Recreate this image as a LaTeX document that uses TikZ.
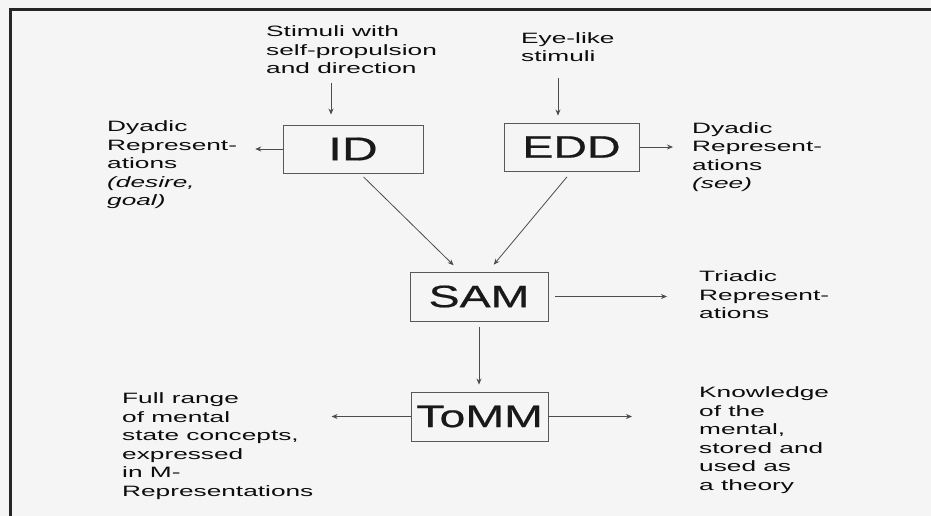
\documentclass[tikz,border=0pt]{standalone}
\usepackage{fontspec}
\setmainfont{Liberation Sans}
\newfontfamily\lblfont{Liberation Sans}[FakeStretch=1.75]
\newfontfamily\boxfont{Liberation Sans}[FakeStretch=1.5, FakeBold=0.6]
\usetikzlibrary{arrows.meta}

\begin{document}
\begin{tikzpicture}[x=1pt, y=-1pt,
	module/.style={draw=black!65, line width=0.9pt, minimum height=48pt, inner sep=0pt, text=black!90, font=\boxfont\fontsize{31}{31}\selectfont},
	lbl/.style={align=left, anchor=west, inner sep=0pt, text=black!95, font=\lblfont\fontsize{15}{18.5}\selectfont},
	arr/.style={draw=black!70, line width=0.8pt, -{Stealth[length=6pt,width=5pt]}},
	frame/.style={draw=black!85, line width=3pt}]

		% background and frame
		\fill[black!4] (0,0) rectangle (931,516);
		\useasboundingbox (0,0) rectangle (931,516);
		\draw[frame] (10,516) -- (10,10) -- (931,10);

		% draw boxes
		\node[module, minimum width=140pt, font=\boxfont\fontsize{33}{33}\selectfont] (ID) at (353,149) {ID};
		\node[module, minimum width=135pt] (EDD) at (571.5,147) {EDD};
		\node[module, minimum width=138pt, minimum height=49pt] (SAM) at (479,296.5) {SAM};
		\node[module, minimum width=137pt, minimum height=49pt] (ToMM) at (479.5,416.5) {ToMM};

		% draw labels
		\node[lbl] (stimA) at (266,50) {Stimuli with\\self-propulsion\\and direction};
		\node[lbl] (stimB) at (521,47) {Eye-like\\stimuli};
		\node[lbl] (dyadL) at (107,165) {Dyadic\\Represent-\\ations\\\textit{(desire,}\\\textit{goal)}};
		\node[lbl] (dyadR) at (692,157) {Dyadic\\Represent-\\ations\\\textit{(see)}};
		\node[lbl] (triad) at (699,295) {Triadic\\Represent-\\ations};
		\node[lbl] (full) at (122,446) {Full range\\of mental\\state concepts,\\expressed\\in M-\\Representations};
		\node[lbl] (know) at (699,440) {Knowledge\\of the\\mental,\\stored and\\used as\\a theory};

		% draw arrows
		\coordinate (idIn) at (331,0);
		\coordinate (eddIn) at (558,0);
		\draw[arr, shorten <=9pt, shorten >=10pt] (stimA.south -| idIn) -- (ID.north -| idIn);
		\draw[arr, shorten <=16pt, shorten >=7pt] (stimB.south -| eddIn) -- (EDD.north -| eddIn);
		\draw[arr, shorten >=18pt] (ID.west) -- (ID.west -| dyadL.east);
		\draw[arr, shorten >=19pt] (EDD.east) -- (EDD.east -| dyadR.west);
		\draw[arr, shorten <=5pt, shorten >=9pt] ([xshift=7pt]ID.south) -- ([xshift=-19pt]SAM.north);
		\draw[arr, shorten <=7pt, shorten >=9pt] (EDD.south) -- ([xshift=9pt]SAM.north);
		\draw[arr, shorten <=7pt, shorten >=32pt] (SAM.east) -- (SAM.east -| triad.west);
		\draw[arr, shorten <=6pt, shorten >=7pt] (SAM.south) -- (SAM.south |- ToMM.north);
		\draw[arr, shorten >=18pt] (ToMM.west) -- (ToMM.west -| full.east);
		\draw[arr, shorten >=67pt] (ToMM.east) -- (ToMM.east -| know.west);
	\end{tikzpicture}
\end{document}
